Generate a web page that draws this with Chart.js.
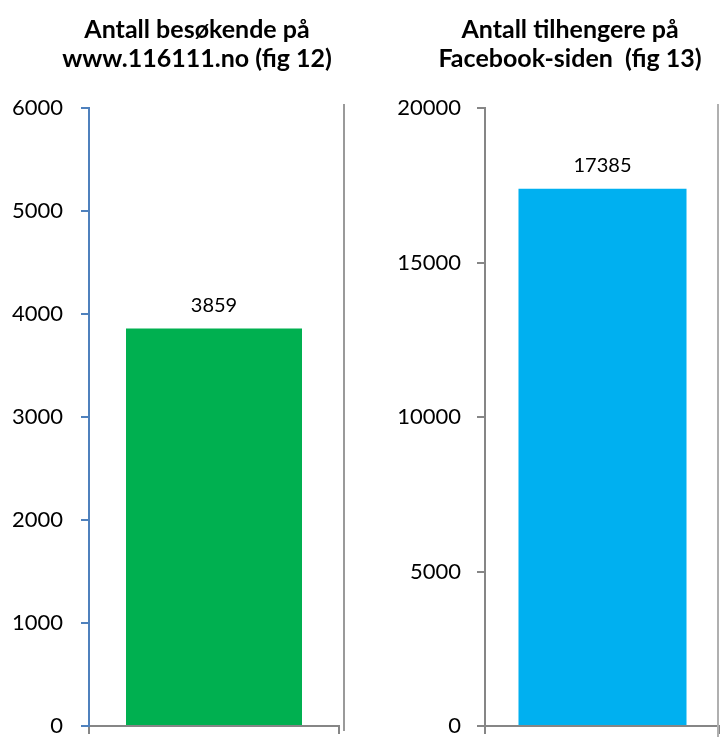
<!DOCTYPE html>
<html>
<head>
<meta charset="utf-8">
<script src="https://cdn.jsdelivr.net/npm/chart.js@4.4.1/dist/chart.umd.min.js"></script>
<style>
  html, body { margin: 0; padding: 0; background: #fff; width: 720px; height: 737px; overflow: hidden; }
  canvas { position: absolute; top: 0; }
  #visitors { left: 0; }
  #followers { left: 380px; }
</style>
</head>
<body>
<canvas id="visitors" width="394" height="737"></canvas>
<canvas id="followers" width="380" height="737"></canvas>
<script>
"use strict";

// fig 12 - visitors on www.116111.no
const visitorsTitle = ["Antall besøkende på", "www.116111.no (fig 12)"];
const visitorsCategories = [""];
const visitorsValues = [3859];
const visitorsTicks = [0, 1000, 2000, 3000, 4000, 5000, 6000];

// fig 13 - followers on the Facebook page
const followersTitle = ["Antall tilhengere på", "Facebook-siden  (fig 13)"];
const followersCategories = [""];
const followersValues = [17385];
const followersTicks = [0, 5000, 10000, 15000, 20000];

const GRAY = "#868686";
const FONT = "Lato";

// value printed over each bar
const valueLabels = {
  id: "valueLabels",
  afterDatasetsDraw(chart, args, opts) {
    const ctx = chart.ctx;
    const ds = chart.data.datasets[0];
    ctx.save();
    ctx.font = opts.size + "px " + FONT;
    ctx.fillStyle = "#000";
    ctx.textAlign = "center";
    ctx.textBaseline = "middle";
    chart.getDatasetMeta(0).data.forEach((bar, i) => {
      ctx.fillText(ds.data[i], bar.x, bar.y - opts.offset);
    });
    ctx.restore();
  }
};

// vertical frame edge to the right of each plot
const frameLine = {
  id: "frameLine",
  afterDraw(chart, args, opts) {
    const ctx = chart.ctx;
    ctx.save();
    ctx.strokeStyle = opts.color;
    ctx.lineWidth = 2;
    ctx.beginPath();
    ctx.moveTo(opts.x, opts.top);
    ctx.lineTo(opts.x, opts.bottom);
    ctx.stroke();
    ctx.restore();
  }
};

function makeChart(id, cfg) {
  const ticks = cfg.ticks;
  return new Chart(document.getElementById(id), {
    type: "bar",
    data: {
      labels: cfg.categories,
      datasets: [{
        data: cfg.values,
        backgroundColor: cfg.color,
        borderWidth: 0,
        barPercentage: cfg.barPct,
        categoryPercentage: 1
      }]
    },
    options: {
      responsive: false,
      animation: false,
      layout: { padding: { left: 0, right: 0, top: 0, bottom: 3 } },
      scales: {
        x: {
          grid: { display: true, drawOnChartArea: false, drawTicks: true, tickLength: 8, color: GRAY, lineWidth: 2, offset: true },
          border: { display: true, color: GRAY, width: 2 },
          ticks: { display: false },
          afterFit: (scale) => { scale.height = 8; }
        },
        y: {
          min: ticks[0],
          max: ticks[ticks.length - 1],
          afterBuildTicks: (scale) => { scale.ticks = ticks.map((v) => ({value: v})); },
          grid: { drawOnChartArea: false, drawTicks: true, tickLength: 8, color: cfg.axisColor, lineWidth: 2 },
          border: { display: true, color: cfg.axisColor, width: 2 },
          ticks: { color: "#000", padding: cfg.tickPad, font: { family: FONT, size: 22 }, callback: (v) => String(v) },
          afterFit: (scale) => {
            scale.width = cfg.axisWidth;
            scale.paddingTop = 0;
            scale.paddingBottom = 0;
          }
        },
        // empty right-hand axis, only there to leave room so the title centre sits where it should
        spacer: {
          position: "right",
          grid: { display: false },
          border: { display: false },
          ticks: { display: false },
          afterFit: (scale) => {
            scale.width = cfg.spacerWidth;
            scale.paddingTop = 0;
            scale.paddingBottom = 0;
          }
        }
      },
      plugins: {
        legend: { display: false },
        tooltip: { enabled: false },
        title: {
          display: true,
          text: cfg.title,
          color: "#000",
          font: { family: FONT, size: 25, weight: "bold", lineHeight: 1.15 },
          padding: { top: 16, bottom: 34.5 }
        },
        valueLabels: { size: 20, offset: 23 },
        frameLine: cfg.frame
      }
    },
    plugins: [valueLabels, frameLine]
  });
}

makeChart("visitors", {
  title: visitorsTitle,
  categories: visitorsCategories,
  values: visitorsValues,
  ticks: visitorsTicks,
  color: "#00B050",
  axisColor: "#4F81BD",
  barPct: 0.704,
  axisWidth: 89,
  spacerWidth: 55,
  tickPad: 18,
  frame: { x: 344, top: 104, bottom: 731, color: "#9a9a9a" }
});

makeChart("followers", {
  title: followersTitle,
  categories: followersCategories,
  values: followersValues,
  ticks: followersTicks,
  color: "#00B0F0",
  axisColor: GRAY,
  barPct: 0.715,
  axisWidth: 105,
  spacerWidth: 40,
  tickPad: 16,
  frame: { x: 338, top: 104, bottom: 737, color: "#b0b0b0" }
});
</script>
</body>
</html>
